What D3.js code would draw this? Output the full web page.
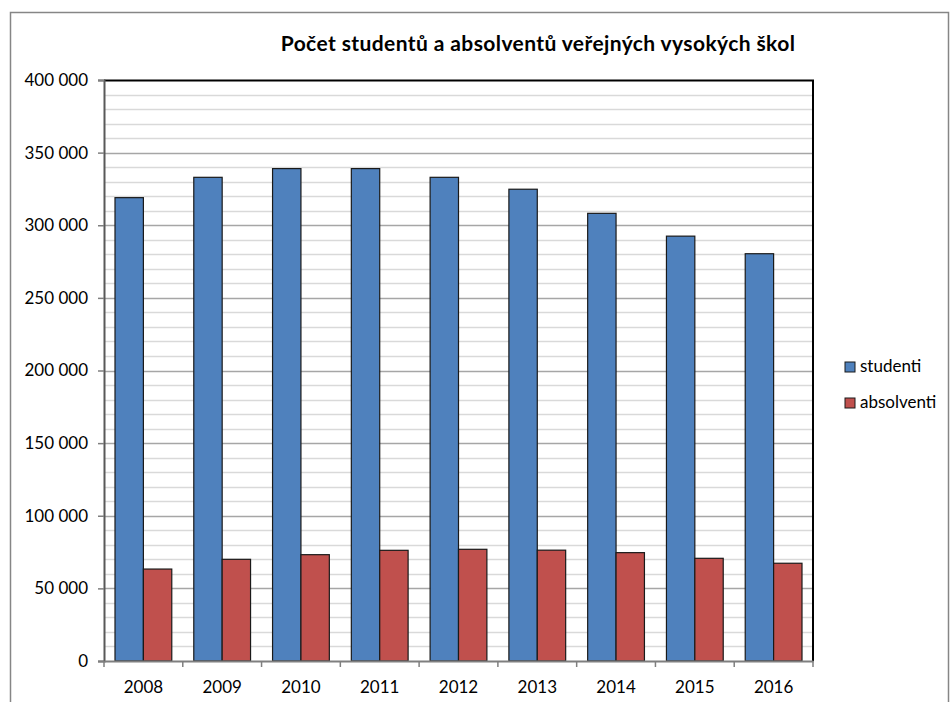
<!DOCTYPE html>
<html>
<head>
<meta charset="utf-8">
<script src="https://cdn.jsdelivr.net/npm/d3@7"></script>
<style>
  body { margin: 0; background: #fff; }
  text { font-family: Lato, "Open Sans", sans-serif; fill: #000; }
</style>
</head>
<body>
<div id="chart"></div>
<script>
var svgWidth = 950;
var svgHeight = 702;

// data
var years = ["2008", "2009", "2010", "2011", "2012", "2013", "2014", "2015", "2016"];
var studenti = [319000, 333000, 339000, 339000, 333000, 324800, 308200, 292500, 280400];
var absolventi = [63300, 70000, 73200, 76200, 76900, 76300, 74600, 70700, 67300];
var seriesNames = ["studenti", "absolventi"];
var seriesColors = ["#4f81bd", "#c0504d"];
var yTicks = [0, 50000, 100000, 150000, 200000, 250000, 300000, 350000, 400000];

var margin = { top: 80, right: 137, bottom: 41, left: 104 };
var width = svgWidth - margin.left - margin.right;
var height = svgHeight - margin.top - margin.bottom;

var svg = d3.select("#chart")
  .append("svg")
  .attr("width", svgWidth)
  .attr("height", svgHeight);

// outer chart frame
svg.append("path")
  .attr("d", "M10.5," + svgHeight + " V12.5 H948.5 V" + svgHeight)
  .attr("fill", "none")
  .attr("stroke", "#868686")
  .attr("stroke-width", 1.5);

svg.append("text")
  .attr("x", 538)
  .attr("y", 51)
  .attr("text-anchor", "middle")
  .attr("font-size", "21px")
  .attr("font-weight", "bold")
  .attr("letter-spacing", "0.4px")
  .text("Počet studentů a absolventů veřejných vysokých škol");

var chartGroup = svg.append("g")
  .attr("transform", `translate(${margin.left}, ${margin.top})`);

var x0 = d3.scaleBand()
  .domain(years)
  .range([0, width]);

var x1 = d3.scaleBand()
  .domain(seriesNames)
  .range([11, x0.bandwidth() - 11]);

var y = d3.scaleLinear()
  .domain([0, 400000])
  .range([height, 0]);

var fmt = function(d) {
  return d3.format(",")(d).replace(/,/g, " ");
};

// minor gridlines every 10 000
chartGroup.append("g")
  .selectAll("line")
  .data(d3.range(10000, 400000, 10000).filter(d => d % 50000 !== 0))
  .enter()
  .append("line")
  .attr("x1", 0)
  .attr("x2", width)
  .attr("y1", d => Math.round(y(d)) + 0.5)
  .attr("y2", d => Math.round(y(d)) + 0.5)
  .attr("stroke", "#d9d9d9")
  .attr("stroke-width", 1.5);

// major gridlines
chartGroup.append("g")
  .selectAll("line")
  .data(yTicks.slice(1, -1))
  .enter()
  .append("line")
  .attr("x1", 0)
  .attr("x2", width)
  .attr("y1", d => Math.round(y(d)) + 0.5)
  .attr("y2", d => Math.round(y(d)) + 0.5)
  .attr("stroke", "#a6a6a6")
  .attr("stroke-width", 1.5);

// bars
var rows = years.map(function(yr, i) {
  return { year: yr, values: [studenti[i], absolventi[i]] };
});

var groups = chartGroup.selectAll(".grp")
  .data(rows)
  .enter()
  .append("g")
  .attr("class", "grp")
  .attr("transform", d => `translate(${x0(d.year)}, 0)`);

groups.selectAll("rect")
  .data(d => d.values.map((v, j) => ({ name: seriesNames[j], value: v, color: seriesColors[j] })))
  .enter()
  .append("rect")
  .attr("x", d => x1(d.name))
  .attr("y", d => y(d.value))
  .attr("width", x1.bandwidth())
  .attr("height", d => height - y(d.value))
  .attr("fill", d => d.color)
  .attr("stroke", "#1a1a1a")
  .attr("stroke-width", 1.2);

// plot frame top and right
chartGroup.append("path")
  .attr("d", `M0,0.5 H${width} V${height}`)
  .attr("fill", "none")
  .attr("stroke", "#000")
  .attr("stroke-width", 2);

// y axis
var leftAxis = d3.axisLeft(y)
  .tickValues(yTicks)
  .tickFormat(fmt)
  .tickSize(6)
  .tickPadding(10);

var yAxisG = chartGroup.append("g").call(leftAxis);
yAxisG.select(".domain").attr("stroke", "#595959").attr("stroke-width", 2);
yAxisG.selectAll(".tick line").attr("stroke", "#7f7f7f").attr("stroke-width", 1.5);
yAxisG.selectAll(".tick text")
  .attr("font-size", "17px")
  .attr("fill", "#000")
  .style("font-family", "Lato, sans-serif");

// x axis with ticks at category boundaries
var bottomAxis = d3.axisBottom(x0).tickSize(0).tickPadding(20);
var xAxisG = chartGroup.append("g")
  .attr("transform", `translate(0, ${height})`)
  .call(bottomAxis);
xAxisG.select(".domain").attr("stroke", "#7f7f7f").attr("stroke-width", 2);
xAxisG.selectAll(".tick text")
  .attr("font-size", "17px")
  .attr("fill", "#000")
  .style("font-family", "Lato, sans-serif");

xAxisG.selectAll(".bound")
  .data(d3.range(years.length + 1))
  .enter()
  .append("line")
  .attr("class", "bound")
  .attr("x1", i => i * x0.step())
  .attr("x2", i => i * x0.step())
  .attr("y1", 0)
  .attr("y2", 6)
  .attr("stroke", "#7f7f7f")
  .attr("stroke-width", 1.5);

// legend
var legend = svg.append("g")
  .attr("transform", "translate(845, 362)");

var items = legend.selectAll("g")
  .data(seriesNames)
  .enter()
  .append("g")
  .attr("transform", (d, i) => `translate(0, ${i * 36})`);

items.append("rect")
  .attr("width", 10)
  .attr("height", 10)
  .attr("fill", (d, i) => seriesColors[i])
  .attr("stroke", "#1a1a1a")
  .attr("stroke-width", 1);

items.append("text")
  .attr("x", 15)
  .attr("y", 10)
  .attr("font-size", "17px")
  .text(d => d);
</script>
</body>
</html>
